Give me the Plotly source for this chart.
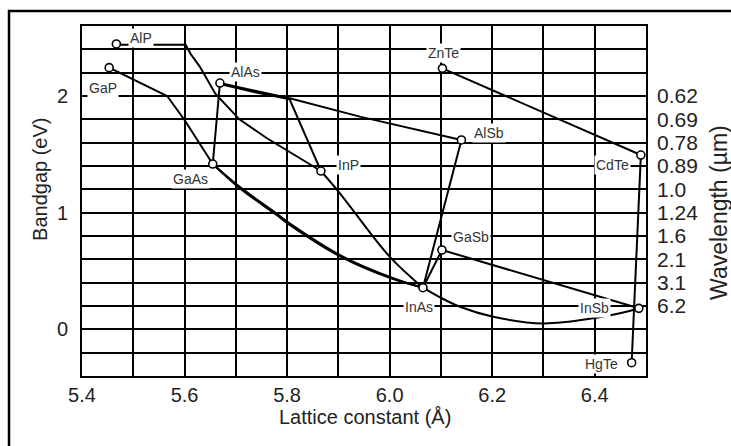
import plotly.graph_objects as go

# ---------------- data ----------------
materials = ["AlP", "GaP", "AlAs", "GaAs", "InP", "ZnTe", "AlSb", "CdTe", "GaSb", "InAs", "InSb", "HgTe"]
lattice = [5.467, 5.453, 5.669, 5.655, 5.866, 6.103, 6.140, 6.490, 6.102, 6.065, 6.486, 6.472]
bandgap = [2.446, 2.243, 2.111, 1.417, 1.357, 2.237, 1.623, 1.494, 0.680, 0.357, 0.180, -0.286]

label_x = [5.516, 5.440, 5.719, 5.612, 5.920, 6.106, 6.194, 6.435, 6.159, 6.057, 6.400, 6.414]
label_y = [2.500, 2.069, 2.210, 1.289, 1.409, 2.365, 1.683, 1.409, 0.791, 0.191, 0.183, -0.297]

# alloy curves
alp_inp_x = [5.467, 5.602, 5.612, 5.630, 5.660, 5.707, 5.760, 5.805, 5.866]
alp_inp_y = [2.440, 2.440, 2.360, 2.250, 2.020, 1.800, 1.640, 1.520, 1.357]

gap_gaas_x = [5.453, 5.566, 5.600, 5.655]
gap_gaas_y = [2.243, 2.000, 1.794, 1.417]

alas_alsb_x = [5.669, 5.805, 5.942, 6.140]
alas_alsb_y = [2.111, 1.980, 1.823, 1.623]

alas_inp_x = [5.669, 5.740, 5.805, 5.866]
alas_inp_y = [2.103, 2.030, 1.972, 1.357]

inp_inas_x = [5.866, 5.903, 6.000, 6.065]
inp_inas_y = [1.357, 1.166, 0.623, 0.357]

gaas_inas_x = [5.655, 5.707, 5.779, 5.805, 5.909, 6.007, 6.065]
gaas_inas_y = [1.417, 1.223, 0.995, 0.909, 0.623, 0.438, 0.357]
gaas_inas2_y = [1.417, 1.212, 0.982, 0.896, 0.612, 0.430, 0.357]

inas_insb_x = [6.065, 6.100, 6.137, 6.202, 6.299, 6.397, 6.462, 6.486]
inas_insb_y = [0.357, 0.270, 0.194, 0.108, 0.051, 0.095, 0.151, 0.180]

gasb_insb_x = [6.102, 6.486]
gasb_insb_y = [0.680, 0.180]

gasb_inas_x = [6.102, 6.065]
gasb_inas_y = [0.680, 0.357]

alsb_inas_x = [6.140, 6.065]
alsb_inas_y = [1.623, 0.357]

alas_gaas_x = [5.669, 5.655]
alas_gaas_y = [2.111, 1.417]

znte_cdte_x = [6.103, 6.490]
znte_cdte_y = [2.237, 1.494]

cdte_hgte_x = [6.490, 6.472]
cdte_hgte_y = [1.494, -0.286]

# axes
x_tickvals = [5.4, 5.5, 5.6, 5.7, 5.8, 5.9, 6.0, 6.1, 6.2, 6.3, 6.4, 6.5]
x_ticktext = ["5.4", "", "5.6", "", "5.8", "", "6.0", "", "6.2", "", "6.4", ""]
y_tickvals = [-0.4, -0.2, 0.0, 0.2, 0.4, 0.6, 0.8, 1.0, 1.2, 1.4, 1.6, 1.8, 2.0, 2.2, 2.4, 2.6]
y_ticktext = ["", "", "0", "", "", "", "", "1", "", "", "", "", "2", "", "", ""]
wl_energy = [2.0, 1.8, 1.6, 1.4, 1.2, 1.0, 0.8, 0.6, 0.4, 0.2]
wl_text = ["0.62", "0.69", "0.78", "0.89", "1.0", "1.24", "1.6", "2.1", "3.1", "6.2"]

FONT = "Liberation Sans, Arial, sans-serif"

fig = go.Figure()

curves = [
    (alp_inp_x, alp_inp_y, "linear"),
    (gap_gaas_x, gap_gaas_y, "linear"),
    (alas_alsb_x, alas_alsb_y, "linear"),
    (alas_inp_x, alas_inp_y, "linear"),
    (inp_inas_x, inp_inas_y, "spline"),
    (gaas_inas_x, gaas_inas_y, "spline"),
    (gaas_inas_x, gaas_inas2_y, "spline"),
    (inas_insb_x, inas_insb_y, "spline"),
    (gasb_insb_x, gasb_insb_y, "linear"),
    (gasb_inas_x, gasb_inas_y, "linear"),
    (alsb_inas_x, alsb_inas_y, "linear"),
    (alas_gaas_x, alas_gaas_y, "linear"),
    (znte_cdte_x, znte_cdte_y, "linear"),
    (cdte_hgte_x, cdte_hgte_y, "linear"),
]
for cx, cy, shp in curves:
    fig.add_trace(go.Scatter(x=cx, y=cy, mode="lines", line=dict(color="black", width=2, shape=shp),
                             showlegend=False, hoverinfo="skip", cliponaxis=False))

fig.add_trace(go.Scatter(x=lattice, y=bandgap, mode="markers", text=materials,
                         marker=dict(symbol="circle", size=8, color="white",
                                     line=dict(color="black", width=1.6)),
                         showlegend=False, cliponaxis=False))

# invisible trace for right axis
fig.add_trace(go.Scatter(x=[5.4], y=[0], yaxis="y2", mode="markers",
                         marker=dict(opacity=0), showlegend=False, hoverinfo="skip"))

for name, lx, ly in zip(materials, label_x, label_y):
    fig.add_annotation(x=lx, y=ly, text=name, showarrow=False, xanchor="center", yanchor="middle",
                       font=dict(family=FONT, size=14, color="#333"),
                       bgcolor="white", borderpad=1)

# axis titles
fig.add_annotation(xref="paper", yref="paper", x=-0.0745, y=0.563, text="Bandgap (eV)",
                   xanchor="center", yanchor="middle",
                   textangle=-90, showarrow=False, font=dict(family=FONT, size=20, color="#222"))
fig.add_annotation(xref="paper", yref="paper", x=0.502, y=-0.117, text="Lattice constant (Å)",
                   xanchor="center", yanchor="middle",
                   showarrow=False, font=dict(family=FONT, size=20, color="#222"))
fig.add_annotation(xref="paper", yref="paper", x=1.129, y=0.468, text="Wavelength (µm)",
                   xanchor="center", yanchor="middle",
                   textangle=-90, showarrow=False, font=dict(family=FONT, size=23, color="#222"))

# outer frame
fig.add_shape(type="rect", xref="paper", yref="paper", x0=-0.1294, x1=1.17, y0=-0.25, y1=1.043,
              line=dict(color="black", width=2.5), layer="below")

fig.update_layout(
    width=731, height=446,
    margin=dict(l=82, r=85, t=26, b=70),
    paper_bgcolor="white", plot_bgcolor="white",
    xaxis=dict(range=[5.4, 6.5], tickvals=x_tickvals, ticktext=x_ticktext,
               showgrid=True, gridcolor="black", gridwidth=2, zeroline=False,
               showline=True, linecolor="black", linewidth=2, mirror=True,
               ticks="", ticklabelstandoff=0,
               tickfont=dict(family=FONT, size=20, color="#222")),
    yaxis=dict(range=[-0.4, 2.6], tickvals=y_tickvals, ticktext=y_ticktext,
               showgrid=True, gridcolor="black", gridwidth=2, zeroline=False,
               showline=True, linecolor="black", linewidth=2, mirror=True,
               ticks="", ticklabelstandoff=8,
               tickfont=dict(family=FONT, size=20, color="#222")),
    yaxis2=dict(range=[-0.4, 2.6], overlaying="y", side="right", anchor="x",
                tickvals=wl_energy, ticktext=wl_text, showgrid=False, zeroline=False,
                showline=False, ticks="", ticklabelstandoff=10,
                tickfont=dict(family=FONT, size=21, color="#222")),
)

fig.write_html("out.html")
